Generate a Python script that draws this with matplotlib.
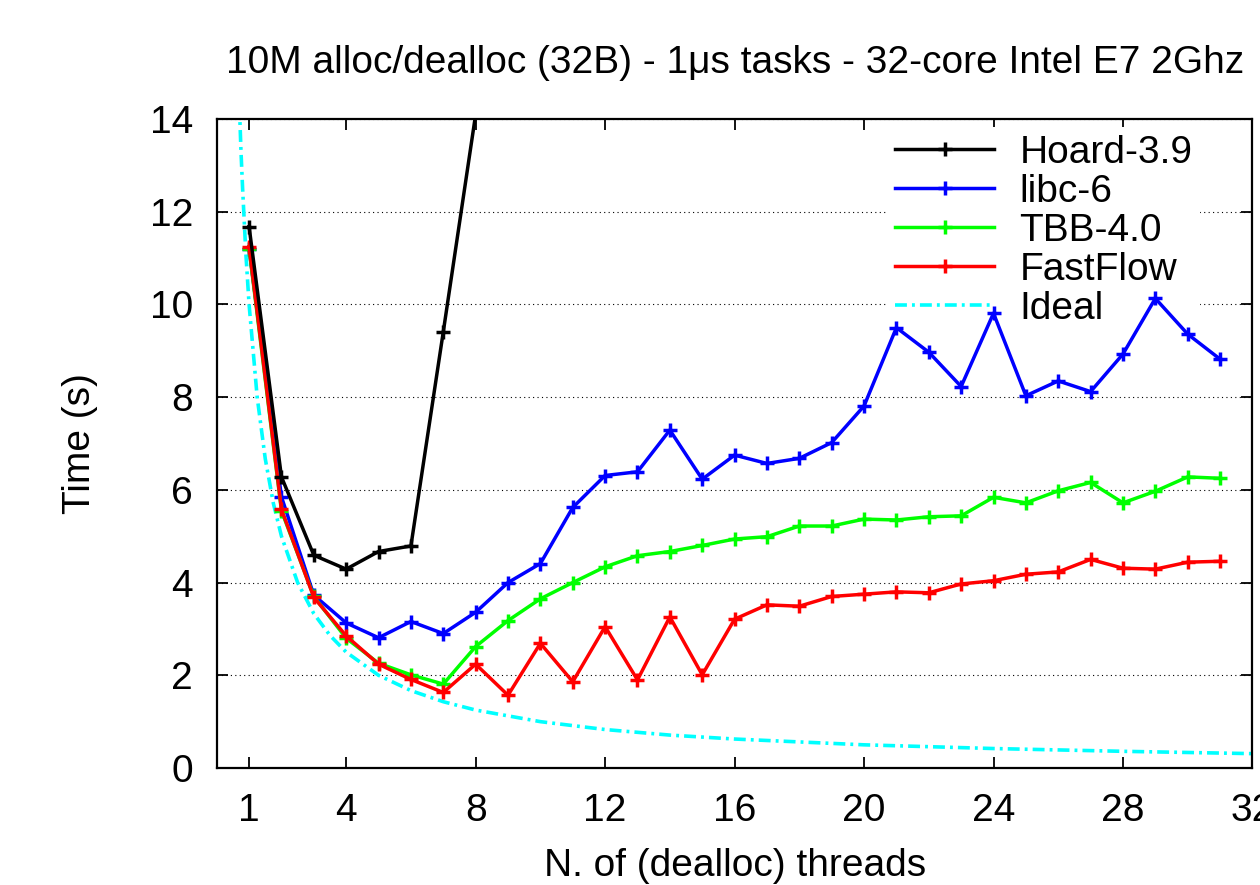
import numpy as np
import matplotlib.pyplot as plt

# thread counts
threads = list(range(1, 32))

# Hoard goes off the top of the chart after 7 threads
hoard_x = [1, 2, 3, 4, 5, 6, 7, 8]
hoard = [11.68, 6.28, 4.59, 4.29, 4.67, 4.79, 9.41, 14.1]

libc = [11.2, 5.85, 3.73, 3.13, 2.81, 3.16, 2.90, 3.36, 4.00, 4.41,
        5.62, 6.31, 6.39, 7.29, 6.23, 6.75, 6.57, 6.68, 7.02, 7.81,
        9.50, 8.97, 8.23, 9.81, 8.03, 8.35, 8.12, 8.93, 10.13, 9.36, 8.82]

tbb = [11.2, 5.55, 3.70, 2.80, 2.26, 2.01, 1.81, 2.62, 3.18, 3.65,
       4.00, 4.34, 4.58, 4.67, 4.80, 4.94, 4.99, 5.22, 5.22, 5.37,
       5.35, 5.42, 5.44, 5.84, 5.72, 5.98, 6.16, 5.72, 5.97, 6.28, 6.25]

fastflow = [11.25, 5.58, 3.68, 2.85, 2.24, 1.91, 1.63, 2.24, 1.57, 2.69,
            1.86, 3.05, 1.90, 3.26, 2.01, 3.21, 3.52, 3.49, 3.70, 3.75,
            3.80, 3.78, 3.97, 4.04, 4.18, 4.23, 4.50, 4.31, 4.29, 4.44, 4.46]

# ideal curve
ideal_x = [0.7, 0.75, 0.8, 0.9, 1, 1.25, 1.5, 1.75, 2, 2.5, 3, 3.5, 4, 5, 6,
           7, 8, 10, 12, 14, 16, 20, 24, 28, 32]
ideal = [14.3, 13.3, 12.5, 11.1, 10.0, 8.0, 6.67, 5.71, 5.0, 4.0, 3.33, 2.86,
         2.5, 2.0, 1.67, 1.43, 1.25, 1.0, 0.83, 0.71, 0.625, 0.5, 0.42, 0.36, 0.31]

xticks = [1, 4, 8, 12, 16, 20, 24, 28, 32]
yticks = [0, 2, 4, 6, 8, 10, 12, 14]

plt.rcParams['font.family'] = ['Liberation Sans', 'DejaVu Sans']
fs = 28
plt.rcParams['font.size'] = fs

fig = plt.figure(figsize=(12.6, 8.85), dpi=100)
ax = fig.add_axes([0.172, 0.1322, 0.822, 0.7333])

lw = 2.5
ms = 10
mew = 2.5
ax.plot(threads, libc, color='#0000ff', lw=lw, marker='+', ms=ms, mew=mew, label='libc-6', zorder=3)
ax.plot(threads, tbb, color='#00ff00', lw=lw, marker='+', ms=ms, mew=mew, label='TBB-4.0', zorder=3)
ax.plot(threads, fastflow, color='#ff0000', lw=lw, marker='+', ms=ms, mew=mew, label='FastFlow', zorder=4)
inside = [i for i, v in enumerate(hoard) if v <= 14]
ax.plot(hoard_x, hoard, color='black', lw=lw, marker='+', ms=ms, mew=mew,
        markevery=inside, label='Hoard-3.9', zorder=5)
ax.plot(ideal_x, ideal, color='#00ffff', lw=2.6, ls=(0, (3.3, 1.4, 0.8, 1.4)),
        label='Ideal', zorder=2)

ax.set_xlim(0, 32)
ax.set_ylim(0, 14)
ax.set_xticks(xticks)
ax.set_yticks(yticks)
ax.tick_params(direction='in', top=True, right=True, length=8, width=1.3,
               labelsize=fs)
ax.tick_params(axis='x', pad=18)
ax.tick_params(axis='y', pad=17)
for s in ax.spines.values():
    s.set_linewidth(1.6)

ax.set_axisbelow(True)
ax.yaxis.grid(True, color='black', lw=0.8, ls=(0, (1, 3)))

ax.set_title('10M alloc/dealloc (32B) - 1\u03bcs tasks - 32-core Intel E7 2Ghz',
             fontsize=fs, pad=33)
ax.set_xlabel('N. of (dealloc) threads', fontsize=fs, labelpad=14)
ax.set_ylabel('Time (s)', fontsize=fs, labelpad=37)

h, l = ax.get_legend_handles_labels()
order = [3, 0, 1, 2, 4]
leg = ax.legend([h[i] for i in order], [l[i] for i in order], loc='upper right',
                bbox_to_anchor=(0.957, 1.0), fontsize=fs, frameon=True,
                fancybox=False, framealpha=1, facecolor='white', edgecolor='none',
                handlelength=2.55, handletextpad=0.64, labelspacing=0.08,
                borderpad=0.2, borderaxespad=0.2)
leg.set_zorder(1)

fig.savefig('out.png', dpi=100)
